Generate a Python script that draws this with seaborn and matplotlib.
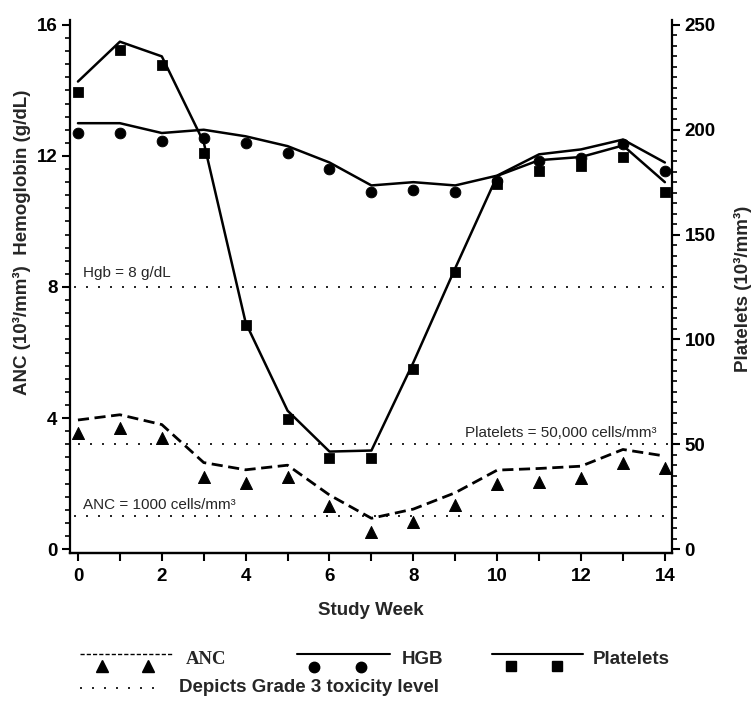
import matplotlib
matplotlib.use("Agg")
import matplotlib.pyplot as plt
from matplotlib.lines import Line2D
from matplotlib.ticker import MultipleLocator, FuncFormatter
import seaborn as sns
import numpy as np

# data
weeks = list(range(15))
hgb_line = [13.0, 13.0, 12.7, 12.8, 12.6, 12.3, 11.8, 11.1, 11.2, 11.1, 11.4, 12.05, 12.2, 12.5, 11.8]
hgb_obs = [12.7, 12.7, 12.45, 12.55, 12.4, 12.1, 11.6, 10.9, 10.95, 10.9, 11.25, 11.85, 11.95, 12.35, 11.55]
plt_line = [223, 242, 235, 194, 108, 66, 46.5, 47, 89, 134, 178, 185.5, 187, 192.5, 175]
plt_obs = [218, 238, 231, 189, 107, 62, 43.5, 43.5, 86, 132, 174, 180.5, 182.5, 187, 170.5]
anc_line = [3.94, 4.1, 3.8, 2.64, 2.42, 2.56, 1.65, 0.94, 1.22, 1.72, 2.41, 2.46, 2.53, 3.04, 2.84]
anc_obs = [3.55, 3.7, 3.38, 2.21, 2.02, 2.21, 1.31, 0.53, 0.83, 1.34, 2.0, 2.06, 2.16, 2.62, 2.46]

# grade 3 toxicity levels
hgb_grade3 = 8
anc_grade3 = 1.0
plt_grade3 = 50

sns.set_style("ticks")
plt.rcParams['font.family'] = ['Liberation Sans', 'DejaVu Sans']

W, H = 756, 704
fig = plt.figure(figsize=(W / 100, H / 100), dpi=100)
ax = fig.add_axes([70 / W, 1 - 553 / H, (672 - 70) / W, (553 - 20) / H])
ax2 = ax.twinx()

dot = (0, (1.2, 6))

# left axis: HGB and ANC
sns.lineplot(x=weeks, y=hgb_line, color='black', lw=1.8, ax=ax)
sns.scatterplot(x=weeks, y=hgb_obs, marker='o', s=60, color='black', edgecolor='black', ax=ax, zorder=3)
sns.lineplot(x=weeks, y=anc_line, color='black', lw=2.0, linestyle=(0, (4, 2)), ax=ax)
sns.scatterplot(x=weeks, y=anc_obs, marker='^', s=75, color='black', edgecolor='black', ax=ax, zorder=3)
ax.hlines([hgb_grade3, anc_grade3], -0.1, 14, colors='black', lw=1.2, linestyles=[dot])

# right axis: platelets
sns.lineplot(x=weeks, y=plt_line, color='black', lw=1.8, ax=ax2)
sns.scatterplot(x=weeks, y=plt_obs, marker='s', s=50, color='black', edgecolor='black', ax=ax2, zorder=3)
ax2.hlines([plt_grade3], 0, 14.17, colors='black', lw=1.2, linestyles=[dot])

ax.set_xlim(-0.19, 14.17)
ax.set_ylim(-0.12, 16.15)
ax2.set_ylim(-0.12 * 15.625, 16.15 * 15.625)

ax.xaxis.set_major_locator(MultipleLocator(1))
ax.xaxis.set_major_formatter(FuncFormatter(lambda v, p: f"{int(v)}" if int(round(v)) % 2 == 0 else ""))
ax.yaxis.set_major_locator(MultipleLocator(4))
ax.yaxis.set_minor_locator(MultipleLocator(0.4))
ax2.yaxis.set_major_locator(MultipleLocator(50))
ax2.yaxis.set_minor_locator(MultipleLocator(5))

for a in (ax, ax2):
    for s in a.spines.values():
        s.set_linewidth(1.6)
        s.set_color('black')
    a.spines['top'].set_visible(False)
    a.tick_params(which='major', length=6, width=1.5, labelsize=13.5, pad=3, colors='black')
    a.tick_params(which='minor', length=3.5, width=1.2, colors='black')
    for lab in a.get_xticklabels() + a.get_yticklabels():
        lab.set_fontweight('bold')
ax.tick_params(axis='x', length=6, pad=5)
ax2.spines['left'].set_visible(False)
ax.spines['right'].set_visible(False)

ax.set_xlabel("Study Week", fontsize=13.5, fontweight='bold', labelpad=12)
ax.set_ylabel("")
ax2.set_ylabel("")
fig.text(22 / W, 1 - 242 / H, "ANC (10³/mm³)  Hemoglobin (g/dL)", rotation=90,
         ha='center', va='center', fontsize=13.5, fontweight='bold')
fig.text(743 / W, 1 - 289 / H, "Platelets (10³/mm³)", rotation=90,
         ha='center', va='center', fontsize=13.5, fontweight='bold')

# threshold annotations
ax.text(0.12, 8.42, "Hgb = 8 g/dL", fontsize=11, ha='left', va='center')
ax.text(13.8, 3.55, "Platelets = 50,000 cells/mm³", fontsize=11, ha='right', va='center')
ax.text(0.12, 1.34, "ANC = 1000 cells/mm³", fontsize=11, ha='left', va='center')

# custom legend below the plot
def fx(px):
    return px / W


def fy(py):
    return 1 - py / H


fig.add_artist(Line2D([fx(80), fx(172)], [fy(654), fy(654)], color='black', lw=1.0, linestyle=(0, (3, 1.5))))
fig.add_artist(Line2D([fx(102), fx(148)], [fy(666), fy(666)], ls='none', marker='^', ms=8, color='black'))
fig.text(fx(186), fy(660), "ANC", fontsize=13.5, fontweight='bold', family=['Liberation Serif', 'DejaVu Serif'], va='center')

fig.add_artist(Line2D([fx(297), fx(390)], [fy(654), fy(654)], color='black', lw=1.5))
fig.add_artist(Line2D([fx(314), fx(361)], [fy(667), fy(667)], ls='none', marker='o', ms=7.5, color='black'))
fig.text(fx(402), fy(660), "HGB", fontsize=13.5, fontweight='bold', va='center')

fig.add_artist(Line2D([fx(492), fx(583)], [fy(654), fy(654)], color='black', lw=1.5))
fig.add_artist(Line2D([fx(511), fx(557)], [fy(666), fy(666)], ls='none', marker='s', ms=6.5, color='black'))
fig.text(fx(593), fy(660), "Platelets", fontsize=13.5, fontweight='bold', va='center')

fig.add_artist(Line2D([fx(80), fx(160)], [fy(688), fy(688)], color='black', lw=1.2, linestyle=dot))
fig.text(fx(179), fy(688), "Depicts Grade 3 toxicity level", fontsize=13.5, fontweight='bold', va='center')

fig.savefig("out.png", dpi=100)
